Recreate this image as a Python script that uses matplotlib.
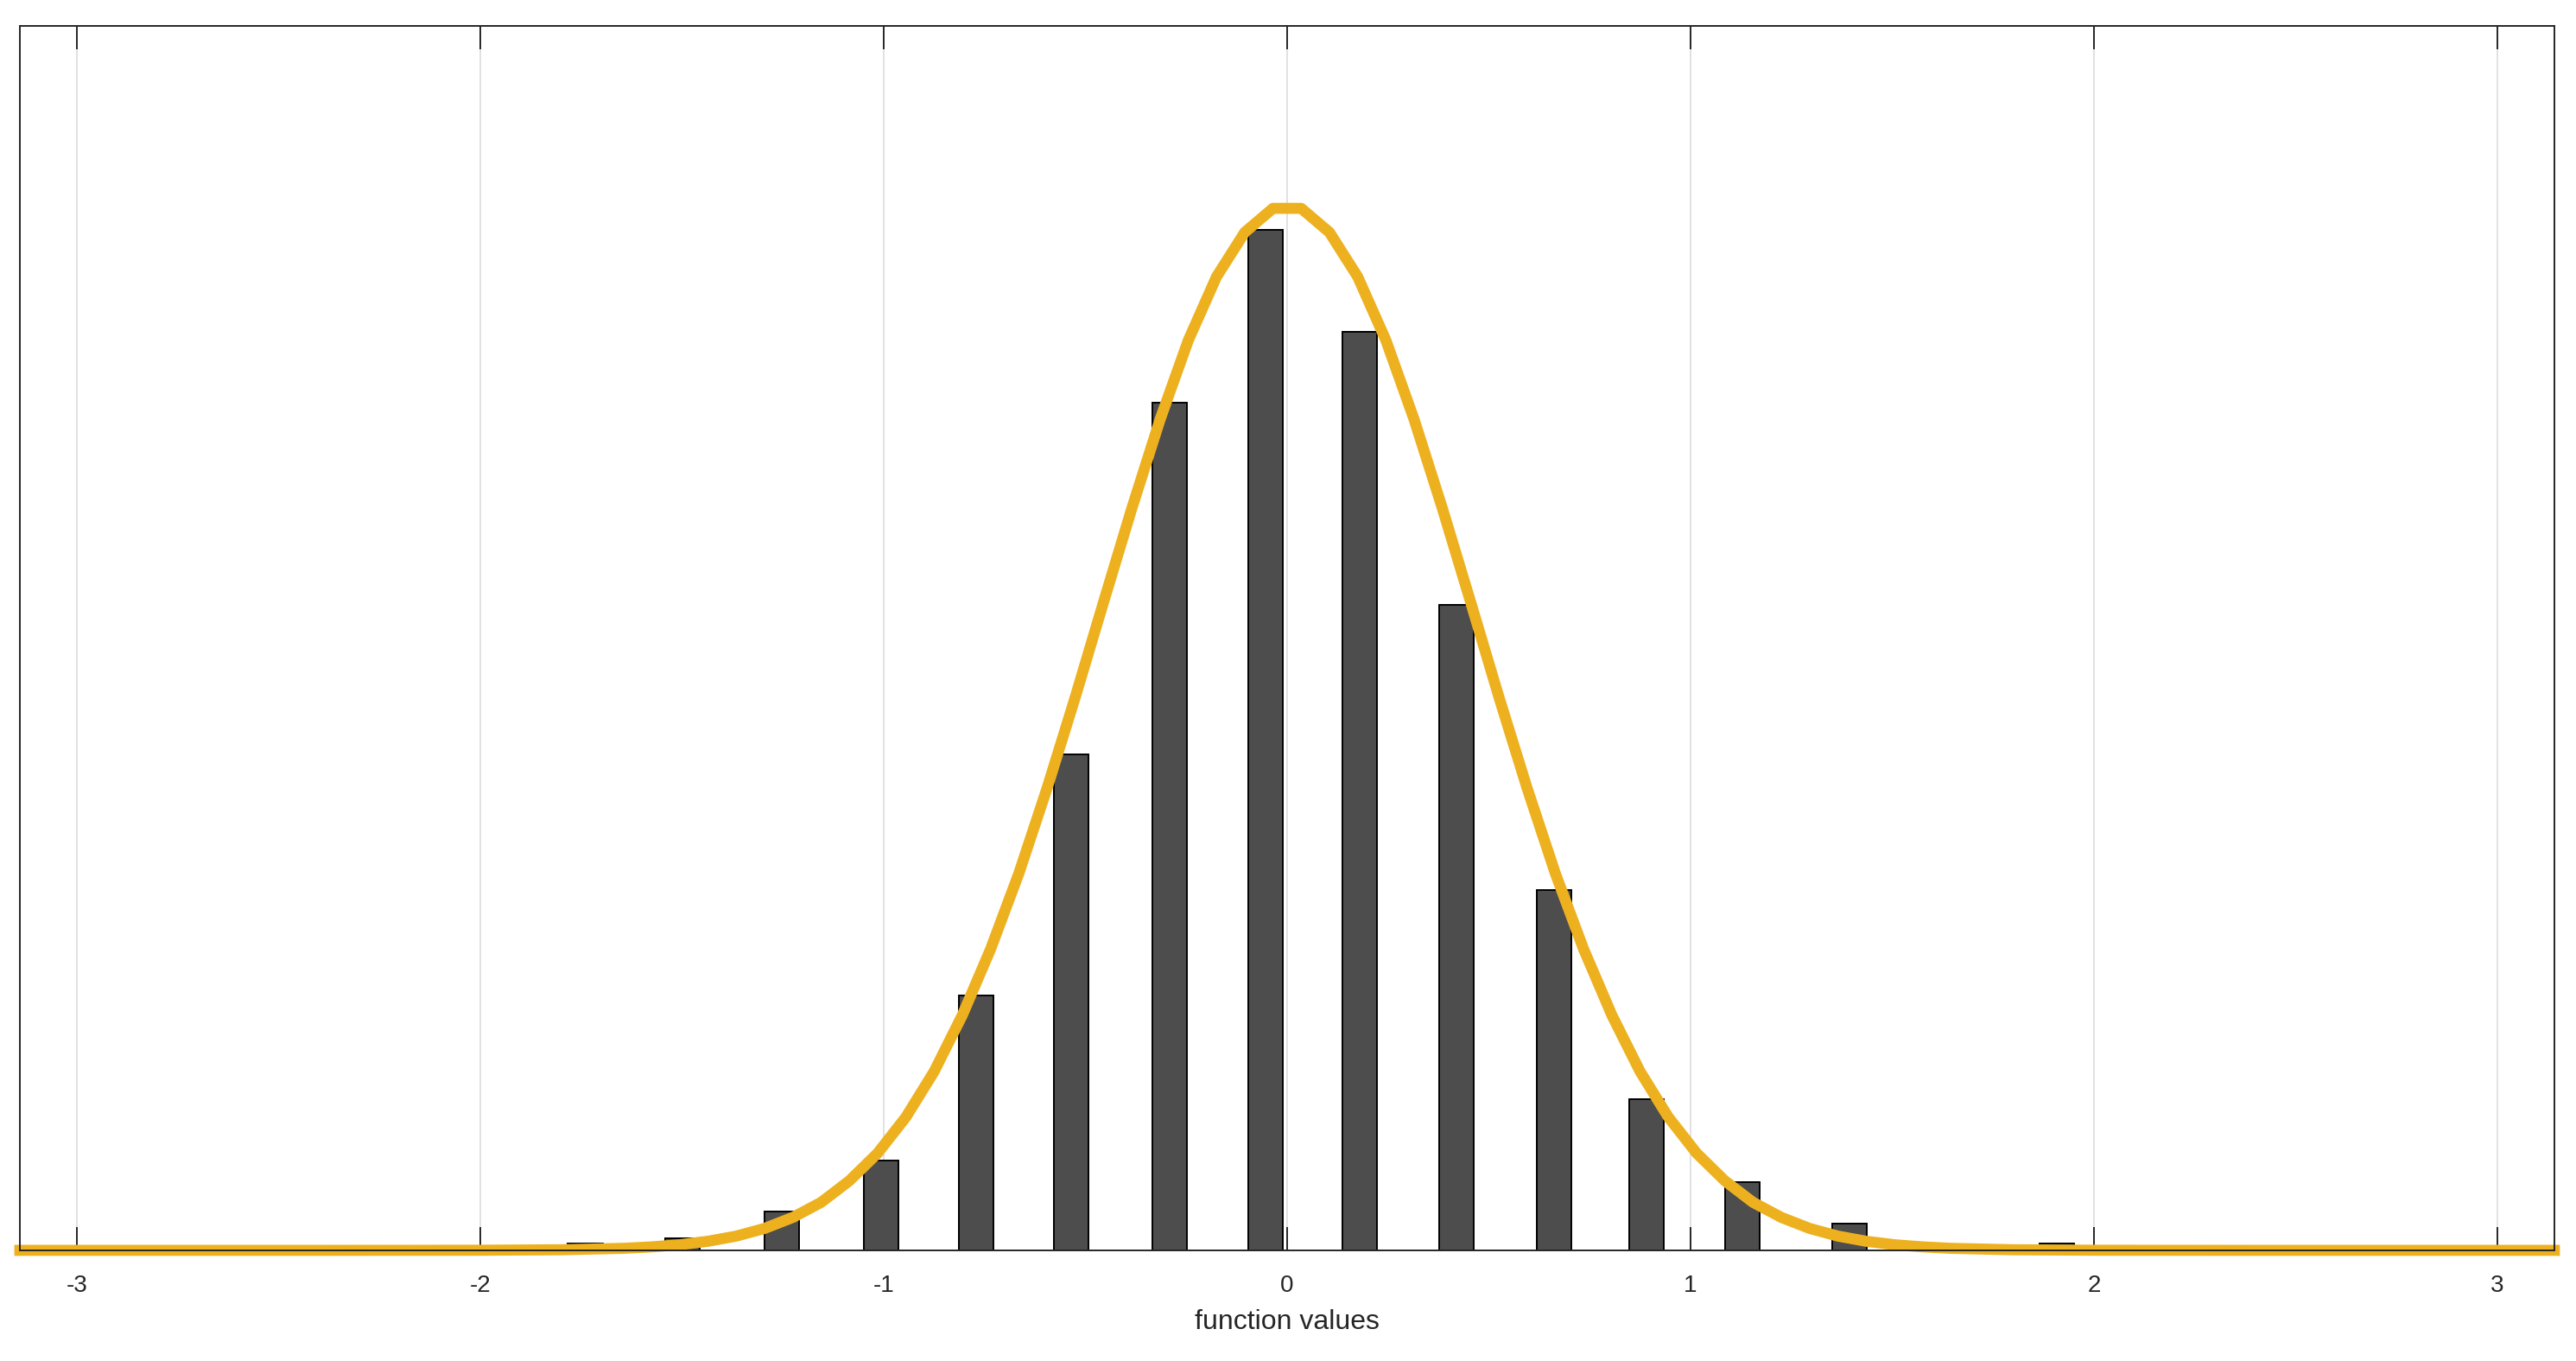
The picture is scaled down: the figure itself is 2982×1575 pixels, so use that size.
import numpy as np
import matplotlib
matplotlib.use("Agg")
import matplotlib.pyplot as plt

plt.rcParams['font.family'] = ['Liberation Sans', 'DejaVu Sans']

# histogram bars (bin centres, normalised heights)
bin_centers = [-1.740, -1.499, -1.253, -1.006, -0.771, -0.535, -0.291, -0.054,
               0.180, 0.419, 0.662, 0.891, 1.128, 1.395, 1.908]
bin_heights = [0.0055, 0.010, 0.032, 0.075, 0.212, 0.413, 0.706, 0.850,
               0.765, 0.538, 0.300, 0.126, 0.057, 0.022, 0.0055]

# fitted curve, right half (curve is symmetric about 0)
half_x = [0.035, 0.105, 0.175, 0.245, 0.315, 0.385, 0.455, 0.525, 0.595,
          0.665, 0.735, 0.805, 0.875, 0.945, 1.015, 1.085, 1.155, 1.225,
          1.295, 1.365, 1.435, 1.505, 1.575, 1.645, 1.8, 2.0, 2.4, 3.1416]
half_y = [0.868, 0.848, 0.811, 0.758, 0.692, 0.618, 0.540, 0.461, 0.385,
          0.314, 0.251, 0.196, 0.149, 0.111, 0.081, 0.058, 0.040, 0.0275,
          0.0183, 0.0119, 0.0076, 0.0047, 0.0029, 0.0017, 0.0005, 0.0001, 0.0, 0.0]
curve_x = [-v for v in half_x[::-1]] + half_x
curve_y = half_y[::-1] + half_y

xticks = [-3, -2, -1, 0, 1, 2, 3]
xtick_labels = ['-3', '-2', '-1', '0', '1', '2', '3']

fig = plt.figure(figsize=(14.91, 7.875), dpi=200)
ax = fig.add_axes([0.0077, 0.0813, 0.9839, 0.8997])

ax.bar(bin_centers, bin_heights, width=0.086, color='#4d4d4d',
       edgecolor='black', linewidth=0.7, zorder=2)
ax.plot(curve_x, curve_y, color='#EDB120', linewidth=4.6, zorder=3,
        clip_on=False)

ax.set_xlim(-np.pi, np.pi)
ax.set_ylim(0, 1.02)
ax.set_xticks(xticks)
ax.set_xticklabels(xtick_labels)
ax.set_yticks([])
ax.tick_params(axis='x', direction='in', length=9.7, width=0.7, top=True,
               labelsize=10, colors='#262626', pad=10)
ax.xaxis.grid(True, color='#dcdcdc', linewidth=0.6)
ax.set_axisbelow(True)
for s in ax.spines.values():
    s.set_linewidth(0.7)
    s.set_color('#262626')
    s.set_zorder(4)

ax.set_xlabel('function values', fontsize=11.5, color='#262626', labelpad=5)

fig.savefig('out.png', dpi=200)
